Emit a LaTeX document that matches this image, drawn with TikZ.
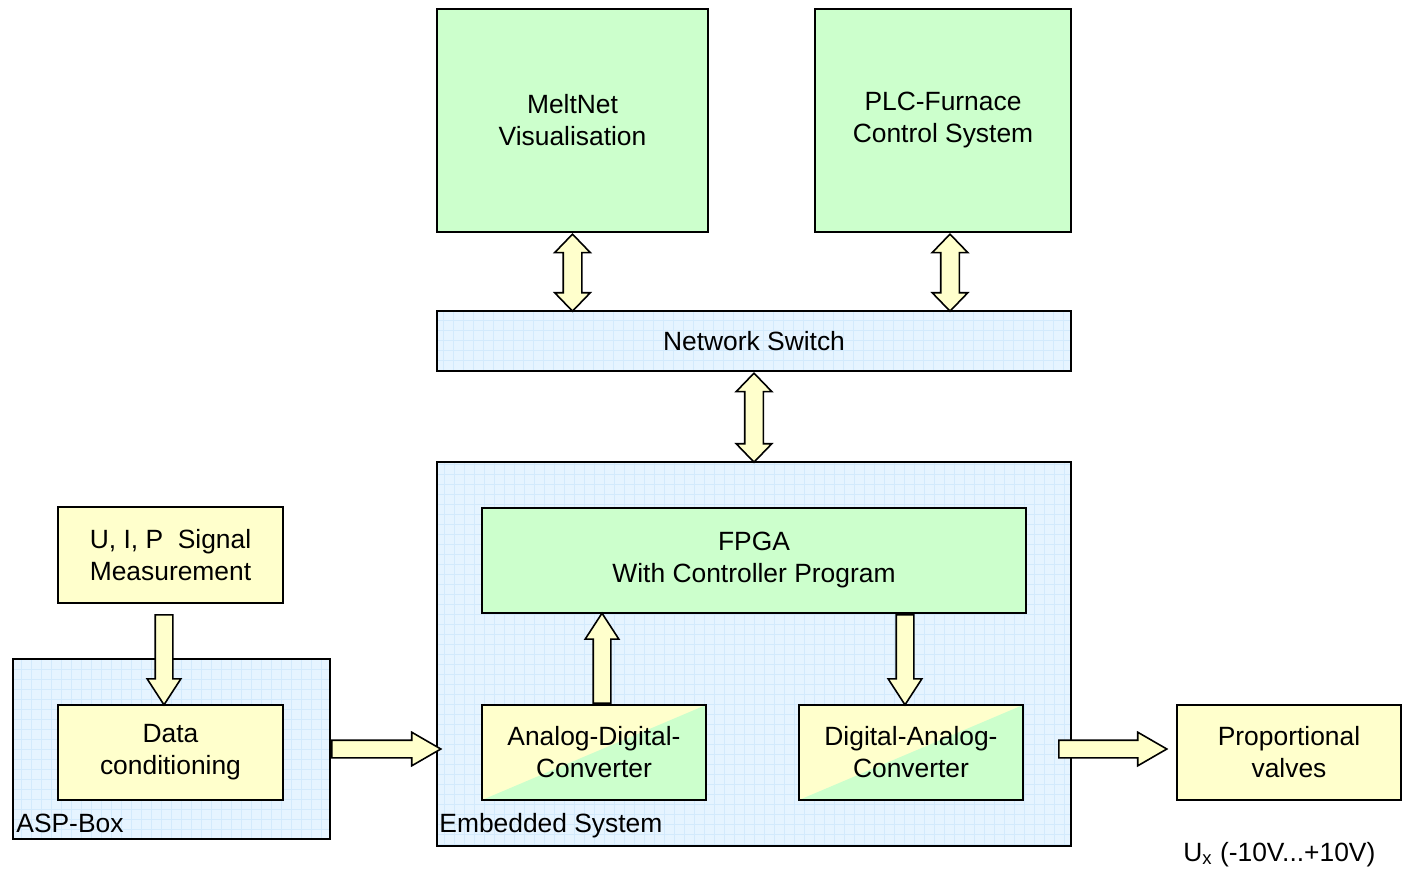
\documentclass[tikz,border=0pt]{standalone}
\usepackage{fontspec}
\setmainfont{Liberation Sans}
\usetikzlibrary{shapes.arrows,calc}

\definecolor{boxgreen}{HTML}{CCFFCC}
\definecolor{boxyellow}{HTML}{FFFFCC}
\definecolor{boxblue}{HTML}{E6F4FF}
\definecolor{gridblue}{HTML}{D3EAFC}

% fat arrow between two points
\newcommand{\blockarrow}[3][sarrow]{%
  \path let \p1=#2, \p2=#3, \n1={veclen(\x2-\x1,\y2-\y1)}, \n2={atan2(\y2-\y1,\x2-\x1)} in
    node[#1, minimum height=\n1, rotate=\n2] at (\p1) {};}

\begin{document}
\begin{tikzpicture}[x=0.5pt,y=-0.5pt]
\tikzset{every node/.style={font=\fontsize{13.2}{16}\selectfont}}
\tikzset{block/.style={draw,line width=1pt,align=center,inner sep=0pt}}
\tikzset{greenbox/.style={block,fill=boxgreen}}
\tikzset{yellowbox/.style={block,fill=boxyellow}}
\tikzset{bluebox/.style={block,fill=boxblue,
  path picture={\draw[gridblue,line width=0.25pt,step=5pt] (path picture bounding box.south west) grid (path picture bounding box.north east);}}}
\tikzset{convbox/.style={block,fill=boxyellow,
  path picture={\fill[boxgreen] (path picture bounding box.south west) -- (path picture bounding box.north east) -- (path picture bounding box.south east) -- cycle;}}}
\tikzset{sarrow/.style={single arrow,anchor=tail,draw,fill=boxyellow,line width=0.8pt,inner xsep=0pt,inner ysep=4pt,
  single arrow head extend=4pt,single arrow tip angle=60}}
\tikzset{sarrowv/.style={sarrow,single arrow tip angle=66}}
\tikzset{darrow/.style={double arrow,anchor=tip 2,draw,fill=boxyellow,line width=0.8pt,inner xsep=0pt,inner ysep=4.25pt,
  double arrow head extend=4.25pt,double arrow tip angle=88}}
\useasboundingbox (0,0) rectangle (1404,869);

% top level
\node[greenbox,minimum width=135.5pt,minimum height=111.5pt] (melt) at (572.5,120.5) {MeltNet\\Visualisation};
\node[greenbox,minimum width=128pt,minimum height=111.5pt] (plc) at (943,120.5) {PLC-Furnace\\Control System};
\node[bluebox,minimum width=317pt,minimum height=30pt] (switch) at (754,341) {Network Switch};

% containers
\node[bluebox,minimum width=317pt,minimum height=192pt] (emb) at (754,654) {};
\node[bluebox,minimum width=158.5pt,minimum height=90pt] (asp) at (171.5,749) {};
\node[anchor=base west,inner sep=0pt] (emblabel) at ([shift={(1.5pt,7.5pt)}]emb.south west) {Embedded System};
\node[anchor=base west,inner sep=0pt] (asplabel) at ([shift={(2pt,4pt)}]asp.south west) {ASP-Box};

% inner blocks
\node[greenbox,minimum width=272pt,minimum height=52.5pt] (fpga) at (754,560.5) {FPGA\\With Controller Program};
\node[convbox,minimum width=112pt,minimum height=47.5pt] (adc) at (594,752.5) {Analog-Digital-\\Converter};
\node[convbox,minimum width=112pt,minimum height=47.5pt] (dac) at (911,752.5) {Digital-Analog-\\Converter};
\node[yellowbox,minimum width=112.5pt,minimum height=48pt] (uip) at (170.5,555) {U, I, P~~Signal\\Measurement};
\node[yellowbox,minimum width=112.5pt,minimum height=47.5pt] (dc) at (170.5,752.5) {Data\\conditioning};
\node[yellowbox,minimum width=112pt,minimum height=47.5pt] (prop) at (1289,752.5) {Proportional\\valves};
\node[anchor=base west,inner sep=0pt] (range) at (1183,861) {U\textsubscript{x} (-10V...+10V)};

% arrows
\blockarrow[darrow]{(melt.south)}{(melt.south |- switch.north)}
\blockarrow[darrow]{([xshift=3.5pt]plc.south)}{([xshift=3.5pt]plc.south |- switch.north)}
\blockarrow[darrow]{(switch.south)}{(emb.north)}
\blockarrow[sarrowv]{([shift={(-3.25pt,-5pt)}]uip.south)}{([xshift=-3.25pt]dc.north)}
\blockarrow[sarrowv]{([xshift=4pt]adc.north)}{([xshift=4pt]adc.north |- fpga.south)}
\blockarrow[sarrowv]{([xshift=-3pt]dac.north |- fpga.south)}{([xshift=-3pt]dac.north)}
\blockarrow{(asp.east)}{([xshift=2pt]emb.west |- asp.east)}
\blockarrow{([xshift=-7pt]emb.east |- asp.east)}{([xshift=-5pt]prop.west |- asp.east)}
\end{tikzpicture}
\end{document}
